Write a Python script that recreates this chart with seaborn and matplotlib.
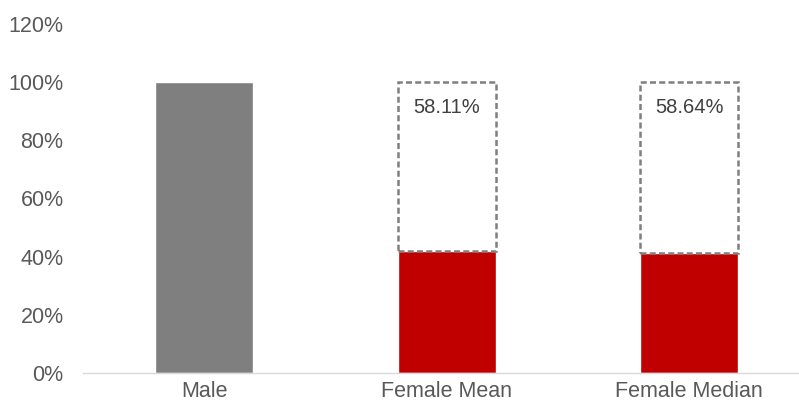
import matplotlib
matplotlib.use("Agg")
import matplotlib.pyplot as plt
from matplotlib.ticker import PercentFormatter
import seaborn as sns

# Data (percent of male pay)
categories = ["Male", "Female Mean", "Female Median"]
values = [100.0, 41.89, 41.36]
bar_colors = ["#7F7F7F", "#C00000", "#C00000"]

# gap to male level, shown as dashed boxes
gap_positions = [1, 2]
gap_values = [58.11, 58.64]
gap_labels = ["58.11%", "58.64%"]

sns.set_theme(style="white")
plt.rcParams["font.family"] = ["Liberation Sans", "DejaVu Sans"]

fig = plt.figure(figsize=(7.99, 4.05), dpi=100)
ax = fig.add_axes([83 / 799, 32 / 405, 716 / 799, 349.2 / 405])

sns.barplot(x=categories, y=values, hue=categories, palette=bar_colors,
            width=0.404, saturation=1, legend=False, ax=ax)

bottoms = [values[i] for i in gap_positions]
ax.bar(gap_positions, gap_values, bottom=bottoms, width=0.404, fill=False,
       edgecolor="#7F7F7F", linewidth=1.8, linestyle=(0, (2.4, 1.3)), zorder=3)

for pos, b, g, lab in zip(gap_positions, bottoms, gap_values, gap_labels):
    ax.text(pos, b + g - 8.8, lab, ha="center", va="center",
            fontsize=14.5, color="#404040")

ax.set_ylim(0, 120)
ax.set_xlim(-0.5, 2.453)
ax.set_yticks(range(0, 121, 20))
ax.yaxis.set_major_formatter(PercentFormatter(decimals=0))
ax.tick_params(axis="both", length=0, labelsize=15.5, labelcolor="#595959")
ax.tick_params(axis="y", pad=14)
ax.tick_params(axis="x", pad=6)
ax.set_xlabel("")
ax.set_ylabel("")

for side in ["left", "top", "right"]:
    ax.spines[side].set_visible(False)
ax.spines["bottom"].set_color("#D9D9D9")
ax.spines["bottom"].set_linewidth(1.0)

fig.savefig("out.png", dpi=100)
